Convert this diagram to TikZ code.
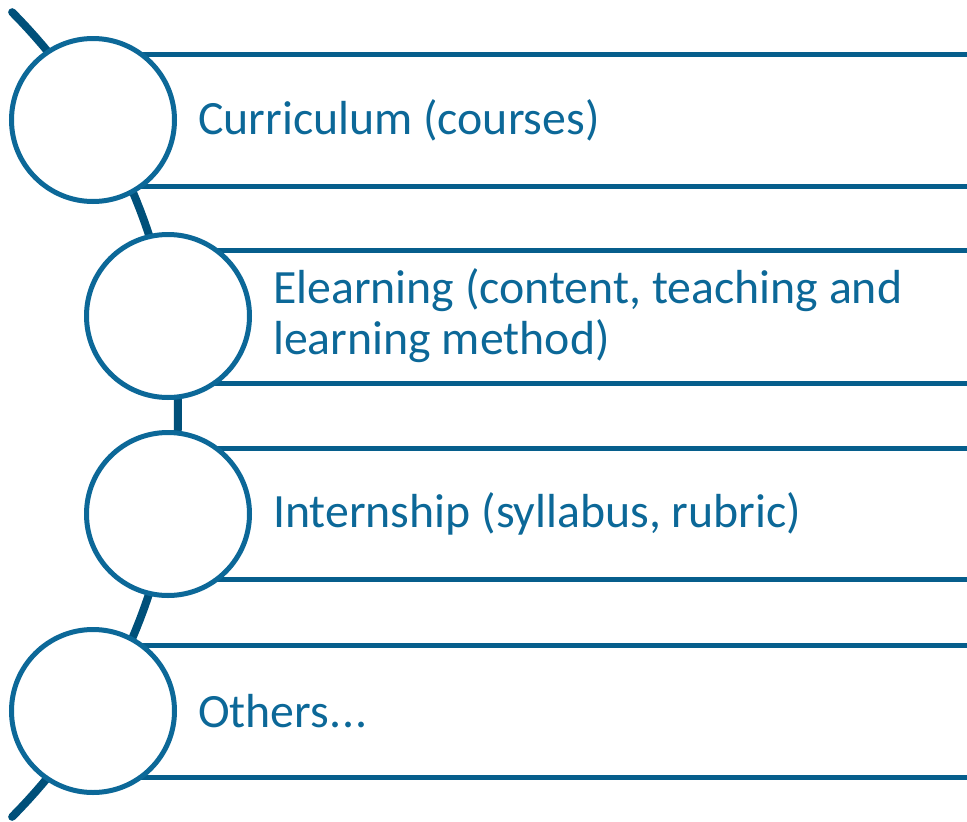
\documentclass[tikz,border=0pt]{standalone}
\usepackage{fontspec}
\setmainfont{Carlito}
\usetikzlibrary{positioning,backgrounds}
\definecolor{ringblue}{RGB}{12,104,152}
\definecolor{barblue}{RGB}{6,94,140}
\definecolor{arcblue}{RGB}{0,80,122}
\tikzset{
  ring/.style={circle, draw=ringblue, line width=5pt, fill=white, minimum size=163pt, inner sep=0pt},
  bar/.style={draw=barblue, line width=5pt},
  spine/.style={draw=arcblue, line width=8pt, line cap=round},
  itemtext/.style={anchor=west, inner sep=0pt, text=ringblue, align=left, font=\fontsize{47.8}{51}\selectfont}
}

\begin{document}
\begin{tikzpicture}[x=1pt, y=-1pt]
	\useasboundingbox (0,0) rectangle (967,822);
	
	% circles
	\node[ring] (c1) at (93, 120) {};
	\node[ring] (c2) at (168, 316) {};
	\node[ring] (c3) at (168, 514) {};
	\node[ring] (c4) at (93, 711) {};
	
	% texts
	\node[itemtext, right=21pt of c1] (t1) {Curriculum (courses)};
	\node[itemtext, right=21pt of c2] (t2) {Elearning (content, teaching and\\learning method)};
	\node[itemtext, right=21pt of c3] (t3) {Internship (syllabus, rubric)};
	\node[itemtext, right=21pt of c4] (t4) {Others.\kern1pt.\kern1pt.};
	
	\begin{scope}[on background layer]
		% big arc behind the circles
		\draw[spine] plot[domain=-44.8:44.8, samples=80] ({-393+571*cos(\x)}, {414.5+571*sin(\x)});
		% top and bottom lines of each box
		\draw[bar] (c1 |- 0,54) -- (975,54);
		\draw[bar] (c1 |- 0,186) -- (975,186);
		\draw[bar] (c2 |- 0,250) -- (975,250);
		\draw[bar] (c2 |- 0,383) -- (975,383);
		\draw[bar] (c3 |- 0,448) -- (975,448);
		\draw[bar] (c3 |- 0,579) -- (975,579);
		\draw[bar] (c4 |- 0,645) -- (975,645);
		\draw[bar] (c4 |- 0,777) -- (975,777);
	\end{scope}
\end{tikzpicture}
\end{document}
